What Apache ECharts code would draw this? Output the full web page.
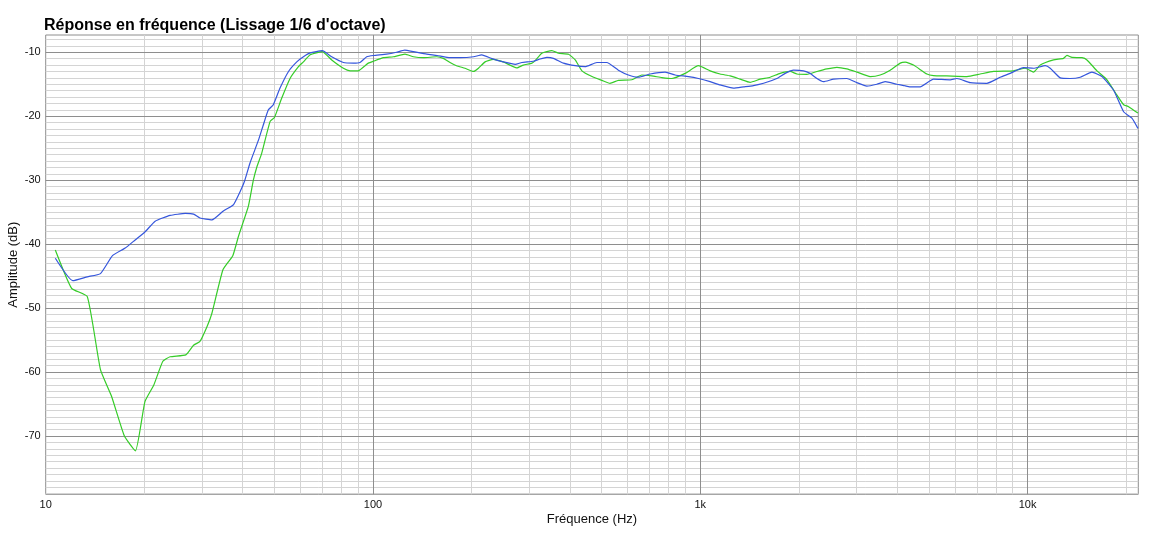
<!DOCTYPE html>
<html>
<head>
<meta charset="utf-8">
<script src="https://cdn.jsdelivr.net/npm/echarts@6/dist/echarts.min.js"></script>
<style>
html,body{margin:0;padding:0;background:#fff;}
#chart{width:1171px;height:533px;}
</style>
</head>
<body>
<div id="chart"></div>
<script>
const titleText = "Réponse en fréquence (Lissage 1/6 d'octave)";
const xAxisName = "Fréquence (Hz)";
const yAxisName = "Amplitude (dB)";

const blueFreq = [10.7,12.1,13.4,14.7,16.0,17.5,18.8,20.1,21.6,24.0,26.7,28.3,29.6,32.2,34.9,37.5,39.5,40.6,42.1,44.7,46.2,47.9,49.6,52.0,55.2,58.5,61.3,64.3,70.0,74.8,81.2,87.1,91.3,95.7,100.3,110,118,125,133,146,157,172,185,203,215,231,250,272,285,309,324,340,356,382,415,445,483,518,562,603,647,703,781,838,920,987,1072,1150,1263,1356,1454,1561,1714,1818,1927,2068,2167,2272,2380,2553,2805,3010,3228,3465,3673,3990,4188,4380,4699,5160,5803,6084,6678,7513,8250,8851,9723,10430,11330,11730,12590,13500,14490,15730,16880,18310,19660,20840,21740];
const blueDb = [-42.2,-45.7,-45.1,-44.6,-41.8,-40.6,-39.3,-38.1,-36.4,-35.5,-35.2,-35.3,-35.9,-36.2,-34.8,-33.8,-31.5,-30.0,-27.3,-23.7,-21.4,-19.0,-18.2,-15.6,-13.0,-11.5,-10.7,-10.1,-9.75,-10.7,-11.6,-11.7,-11.6,-10.7,-10.5,-10.3,-10.0,-9.65,-9.9,-10.3,-10.5,-10.85,-10.85,-10.7,-10.4,-11.0,-11.5,-11.9,-11.6,-11.4,-11.05,-10.8,-10.95,-11.7,-12.1,-12.25,-11.6,-11.6,-12.8,-13.55,-13.9,-13.4,-13.1,-13.55,-13.8,-14.1,-14.6,-15.1,-15.6,-15.4,-15.2,-14.85,-14.1,-13.3,-12.8,-12.9,-13.3,-14.1,-14.6,-14.2,-14.1,-14.75,-15.3,-15.0,-14.6,-15.0,-15.2,-15.4,-15.4,-14.2,-14.3,-14.1,-14.75,-14.85,-13.9,-13.3,-12.4,-12.5,-12.1,-12.5,-14.0,-14.1,-13.9,-13.1,-13.8,-15.9,-19.3,-20.3,-21.9];

const greenFreq = [10.7,12.0,13.4,14.7,15.9,17.4,18.8,20.1,21.4,22.8,24.0,26.8,28.3,29.6,31.1,32.2,34.8,37.3,38.8,41.6,43.1,44.2,45.7,48.5,50.0,52.6,55.8,59.2,61.3,64.3,70.0,74.8,81.2,85.1,90.2,94.6,96.8,100.3,107.6,115.4,125.3,132.9,142.6,156.7,164,172,180,191,203,210,220,233,250,275,288,306,313,328,352,369,396,415,435,467,501,530,562,618,663,711,763,819,899,987,1072,1150,1234,1324,1420,1524,1635,1754,1882,1974,2118,2272,2437,2615,2805,3010,3306,3546,3806,4083,4230,4483,4927,5160,5669,6528,7168,7873,9062,9840,10430,10935,12010,12880,13200,13670,14670,15190,16300,17490,18760,19660,20360,21740];
const greenDb = [-40.9,-46.9,-48.2,-59.6,-63.8,-70.0,-72.3,-64.6,-62.0,-58.3,-57.6,-57.3,-55.8,-55.2,-52.9,-50.8,-44.0,-41.8,-38.8,-34.1,-30.0,-27.9,-25.8,-20.8,-20.2,-17.2,-14.1,-12.25,-11.5,-10.4,-9.9,-11.2,-12.5,-12.9,-12.9,-12.1,-11.7,-11.4,-10.85,-10.7,-10.3,-10.7,-10.85,-10.7,-10.95,-11.6,-12.1,-12.5,-13.0,-12.5,-11.5,-11.1,-11.5,-12.45,-12.0,-11.7,-11.3,-10.15,-9.75,-10.15,-10.3,-11.2,-12.9,-13.8,-14.4,-14.85,-14.4,-14.3,-13.55,-13.7,-13.95,-14.1,-13.3,-12.1,-12.9,-13.4,-13.7,-14.2,-14.7,-14.2,-13.9,-13.3,-13.0,-13.4,-13.45,-13.0,-12.6,-12.35,-12.6,-13.1,-13.8,-13.55,-12.8,-11.7,-11.55,-12.0,-13.4,-13.65,-13.7,-13.8,-13.4,-13.0,-12.9,-12.5,-13.1,-12.0,-11.2,-10.95,-10.5,-10.8,-10.85,-11.2,-12.9,-14.3,-16.7,-18.2,-18.5,-19.5];

const majorFreqLines = [100, 1000, 10000];
const minorFreqLines = [20,30,40,50,60,70,80,90,200,300,400,500,600,700,800,900,2000,3000,4000,5000,6000,7000,8000,9000,20000];
const majorDbLines = [-70,-60,-50,-40,-30,-20,-10];
const minorDbLines = [];
for (let d = -79; d <= -8; d++) { if (d % 10 !== 0) minorDbLines.push(d); }

const MINOR = '#d4d4d4';
const MAJOR = '#8e8e8e';

function zip(xs, ys) { return xs.map((x, i) => [x, ys[i]]); }

const gridLines = []
  .concat(minorDbLines.map(v => ({ yAxis: v, lineStyle: { color: MINOR, width: 1, type: 'solid' } })))
  .concat(minorFreqLines.map(v => ({ xAxis: v, lineStyle: { color: MINOR, width: 1, type: 'solid' } })))
  .concat(majorDbLines.map(v => ({ yAxis: v, lineStyle: { color: MAJOR, width: 1, type: 'solid' } })))
  .concat(majorFreqLines.map(v => ({ xAxis: v, lineStyle: { color: MAJOR, width: 1, type: 'solid' } })));

const chart = echarts.init(document.getElementById('chart'), null, { renderer: 'canvas' });
chart.setOption({
  animation: false,
  backgroundColor: '#ffffff',
  textStyle: { fontFamily: 'Liberation Sans, Arial, sans-serif' },
  title: {
    text: titleText,
    left: 39,
    top: 13,
    textStyle: { fontFamily: 'Liberation Sans, Arial, sans-serif', fontSize: 16, fontWeight: 'bold', color: '#000' }
  },
  grid: {
    left: 45.7, right: 32.7, top: 35, bottom: 38.7,
    containLabel: false,
    outerBoundsMode: 'none',
    show: true, borderColor: '#8e8e8e', borderWidth: 1, backgroundColor: 'transparent'
  },
  xAxis: {
    type: 'log',
    logBase: 10,
    min: 10,
    max: 21800,
    name: xAxisName,
    nameLocation: 'middle',
    nameGap: 19,
    nameMoveOverlap: false,
    nameTextStyle: { fontSize: 13, color: '#111' },
    axisLine: { show: false },
    axisTick: { show: false },
    splitLine: { show: false },
    axisLabel: {
      fontSize: 11, color: '#111', margin: 5,
      showMaxLabel: false,
      formatter: function (v) { const r = Math.round(v); return r >= 1000 ? (r / 1000) + 'k' : String(r); }
    }
  },
  yAxis: {
    type: 'value',
    min: -79.1,
    max: -7.3,
    splitNumber: 7,
    name: yAxisName,
    nameLocation: 'middle',
    nameGap: 26,
    nameMoveOverlap: false,
    nameRotate: 90,
    nameTextStyle: { fontSize: 13, color: '#111' },
    axisLine: { show: false },
    axisTick: { show: false },
    splitLine: { show: false },
    axisLabel: { fontSize: 11, color: '#111', margin: 5, showMinLabel: false, showMaxLabel: false }
  },
  series: [
    {
      type: 'line',
      name: 'grid',
      data: [],
      z: 0,
      silent: true,
      markLine: {
        z: 0,
        silent: true,
        symbol: ['none', 'none'],
        label: { show: false },
        emphasis: { disabled: true },
        animation: false,
        data: gridLines
      }
    },
    {
      type: 'line',
      name: 'B',
      data: zip(blueFreq, blueDb),
      showSymbol: false,
      smooth: 0.15,
      z: 10,
      lineStyle: { color: '#3556dc', width: 1.2, type: 'solid' },
      itemStyle: { color: '#3556dc' }
    },
    {
      type: 'line',
      name: 'G',
      data: zip(greenFreq, greenDb),
      showSymbol: false,
      smooth: 0.15,
      z: 9,
      lineStyle: { color: '#35cc28', width: 1.2, type: 'solid' },
      itemStyle: { color: '#35cc28' }
    }
  ]
});
</script>
</body>
</html>
